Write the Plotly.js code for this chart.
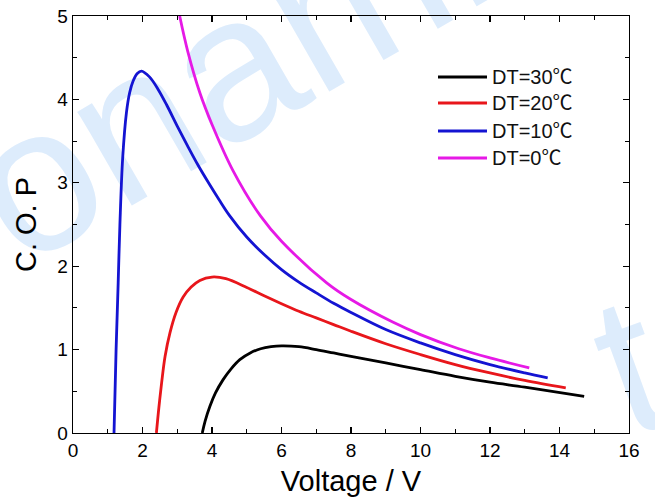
<!DOCTYPE html>
<html>
<head>
<meta charset="utf-8">
<script src="https://cdn.plot.ly/plotly-3.0.1.min.js"></script>
<style>
html,body{margin:0;padding:0;background:#fff;}
#wrap{position:relative;width:655px;height:500px;overflow:hidden;}
#wm{position:absolute;left:0;top:0;width:655px;height:500px;overflow:hidden;pointer-events:none;}
#wm span{position:absolute;font-family:"Liberation Sans",Arial,sans-serif;color:#ddecfc;white-space:nowrap;line-height:1;}
#chart{position:absolute;left:0;top:0;width:655px;height:500px;}
</style>
</head>
<body>
<div id="wrap">
<div id="wm"><span id="wm1">onamic</span><span id="wm2">t</span></div>
<div id="chart"></div>
</div>
<script>
// Series names
const seriesNames = ["DT=30\u2103", "DT=20\u2103", "DT=10\u2103", "DT=0\u2103"];
const seriesColors = ["#000000", "#e8161b", "#1414d2", "#e619e6"];

// DT=30
const v30 = [3.72, 3.80, 3.94, 4.10, 4.32, 4.55, 4.80, 5.10, 5.40, 5.70, 6.00, 6.50, 7.00, 7.50, 8.00, 9.00, 10.0, 11.0, 12.0, 13.0, 14.71];
const cop30 = [0, 0.14, 0.32, 0.48, 0.64, 0.77, 0.88, 0.96, 1.01, 1.035, 1.045, 1.035, 1.00, 0.96, 0.92, 0.84, 0.76, 0.68, 0.61, 0.55, 0.44];

// DT=20
const v20 = [2.40, 2.47, 2.55, 2.65, 2.79, 2.97, 3.17, 3.40, 3.65, 4.00, 4.40, 5.00, 5.50, 6.00, 6.50, 7.00, 7.50, 8.00, 9.00, 10.0, 11.0, 12.0, 13.0, 14.18];
const cop20 = [0, 0.30, 0.60, 0.92, 1.20, 1.45, 1.63, 1.75, 1.83, 1.87, 1.85, 1.745, 1.645, 1.55, 1.46, 1.38, 1.30, 1.22, 1.07, 0.94, 0.82, 0.72, 0.63, 0.54];

// DT=10
const v10 = [1.18, 1.24, 1.30, 1.35, 1.43, 1.54, 1.63, 1.73, 1.85, 1.97, 2.20, 2.45, 2.70, 3.00, 3.30, 3.60, 3.90, 4.20, 4.50, 5.00, 5.50, 6.00, 6.50, 7.00, 7.50, 8.00, 9.00, 10.0, 11.0, 12.0, 13.0, 13.66];
const cop10 = [0, 1.00, 1.80, 2.50, 3.30, 3.85, 4.08, 4.22, 4.31, 4.34, 4.27, 4.12, 3.93, 3.68, 3.44, 3.21, 3.00, 2.80, 2.61, 2.35, 2.14, 1.96, 1.81, 1.68, 1.555, 1.445, 1.24, 1.08, 0.94, 0.82, 0.72, 0.66];

// DT=0
const v0 = [3.07, 3.30, 3.65, 4.00, 4.60, 5.40, 6.00, 7.30, 8.00, 9.20, 10.0, 11.1, 12.0, 13.13];
const cop0 = [5.0, 4.58, 4.08, 3.70, 3.15, 2.60, 2.30, 1.80, 1.60, 1.33, 1.18, 1.01, 0.90, 0.78];

const xs = [v30, v20, v10, v0];
const ys = [cop30, cop20, cop10, cop0];

const xTickVals = [0, 2, 4, 6, 8, 10, 12, 14, 16];
const yTickVals = [0, 1, 2, 3, 4, 5];

const traces = xs.map((x, i) => ({
  x: x, y: ys[i], name: seriesNames[i], type: 'scatter', mode: 'lines',
  line: {color: seriesColors[i], width: 2.8, shape: 'spline', smoothing: 1},
  showlegend: false
}));

const font = "Liberation Sans, Arial, sans-serif";
const axisCommon = {
  showgrid: false, zeroline: false, showline: true, linecolor: '#000', linewidth: 1.3,
  mirror: 'ticks', ticks: 'inside', ticklen: 6, tickwidth: 1.2, tickcolor: '#000',
  tickfont: {family: font, size: 19, color: '#000'}
};

// custom legend (paper coordinates)
const legRowsY = [77, 103, 131, 158].map(p => (433 - p) / 417);
const legX0 = (438 - 73) / 556, legX1 = (487 - 73) / 556, legTX = (490 - 73) / 556;
const shapes = seriesNames.map((n, i) => ({
  type: 'line', xref: 'paper', yref: 'paper', x0: legX0, x1: legX1, y0: legRowsY[i], y1: legRowsY[i],
  line: {color: seriesColors[i], width: 3.2}
}));
const annotations = seriesNames.map((n, i) => ({
  xref: 'paper', yref: 'paper', x: legTX, y: legRowsY[i], xanchor: 'left', yanchor: 'middle',
  text: n, showarrow: false, font: {family: "Liberation Sans, Noto Sans CJK SC, sans-serif", size: 20, color: '#111'}
}));

const layout = {
  width: 655, height: 500,
  margin: {l: 73, r: 26, t: 16, b: 67},
  paper_bgcolor: 'rgba(0,0,0,0)', plot_bgcolor: 'rgba(0,0,0,0)',
  showlegend: false,
  shapes: shapes, annotations: annotations,
  xaxis: Object.assign({}, axisCommon, {
    range: [0, 16], tickvals: xTickVals, ticktext: xTickVals.map(String),
    minor: {dtick: 1, tick0: 0, ticks: 'inside', ticklen: 4, tickcolor: '#000'},
    title: {text: 'Voltage / V', font: {family: font, size: 29, color: '#000'}, standoff: 10}
  }),
  yaxis: Object.assign({}, axisCommon, {
    range: [0, 5], tickvals: yTickVals, ticktext: yTickVals.map(String),
    minor: {dtick: 0.5, tick0: 0, ticks: 'inside', ticklen: 4, tickcolor: '#000'},
    title: {text: 'C. O. P', font: {family: font, size: 29, color: '#000'}, standoff: 12}
  })
};

Plotly.newPlot('chart', traces, layout, {displayModeBar: false, staticPlot: true});

// watermark placement
const w1 = document.getElementById('wm1');
w1.style.fontSize = '205px';
w1.style.left = '-15px'; w1.style.top = '105px';
w1.style.transform = 'rotate(-30deg)';
w1.style.transformOrigin = '0 50%';
const w2 = document.getElementById('wm2');
w2.style.fontSize = '200px';
w2.style.left = '602px'; w2.style.top = '265px';
w2.style.transform = 'rotate(-20deg)';
</script>
</body>
</html>
